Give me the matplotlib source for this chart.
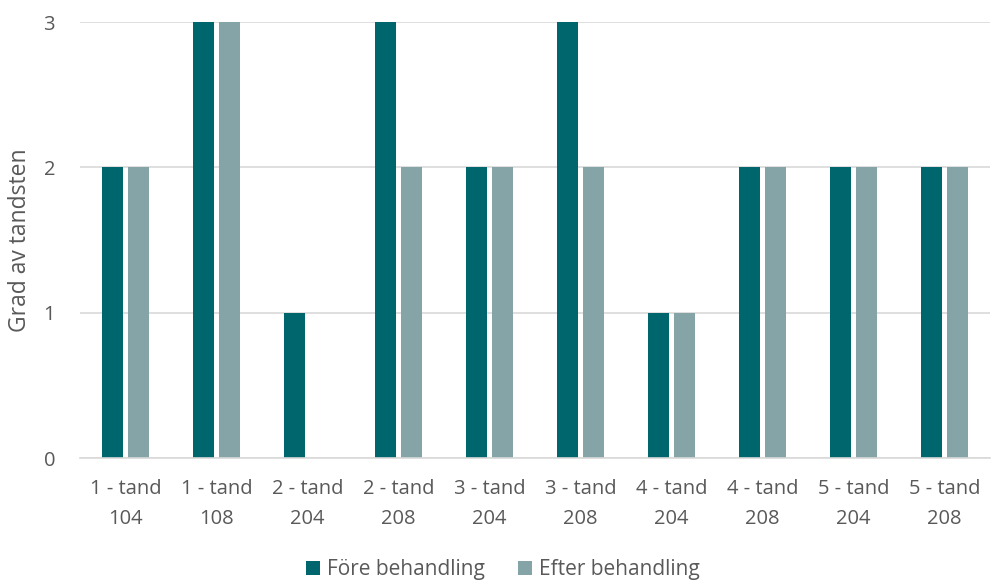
import matplotlib.pyplot as plt
import numpy as np

plt.rcParams["font.family"] = ["Open Sans", "DejaVu Sans"]

categories = ["1 - tand\n104", "1 - tand\n108", "2 - tand\n204", "2 - tand\n208", "3 - tand\n204",
              "3 - tand\n208", "4 - tand\n204", "4 - tand\n208", "5 - tand\n204", "5 - tand\n208"]
fore = [2, 3, 1, 3, 2, 3, 1, 2, 2, 2]
efter = [2, 3, 0, 2, 2, 2, 1, 2, 2, 2]
series_names = ["Före behandling", "Efter behandling"]
colors = ["#00666E", "#84A4A8"]
text_color = "#595959"

fig = plt.figure(figsize=(9.96, 5.84), dpi=100)
ax = fig.add_axes([80 / 996, 1 - 458 / 584, 910 / 996, 436 / 584])

x = np.arange(len(categories))
width = 0.23
gap = 0.055
ax.bar(x - (width + gap) / 2, fore, width, color=colors[0], label=series_names[0], zorder=2)
ax.bar(x + (width + gap) / 2, efter, width, color=colors[1], label=series_names[1], zorder=2)

ax.set_xlim(-0.5, len(categories) - 0.5)
ax.set_ylim(0, 3)
ax.set_yticks([0, 1, 2, 3])
ax.set_xticks(x)
ax.set_xticklabels(categories, fontsize=14.5, color=text_color, linespacing=1.7)
ax.tick_params(axis="y", labelsize=14.5, labelcolor=text_color, length=0, pad=18)
ax.tick_params(axis="x", length=0, pad=15)
ax.grid(axis="y", color="#D9D9D9", linewidth=1.2, zorder=0)
for side in ["top", "right", "left"]:
    ax.spines[side].set_visible(False)
ax.spines["bottom"].set_color("#D9D9D9")
ax.spines["bottom"].set_linewidth(1.2)
ax.set_ylabel("Grad av tandsten", fontsize=16.5, color=text_color)
ax.yaxis.set_label_coords(-0.053, 0.5)

fig.legend(loc="center", bbox_to_anchor=(0.505, 1 - 570 / 584), ncol=2, frameon=False,
           fontsize=15, labelcolor=text_color, handlelength=0.65, handleheight=0.65,
           handletextpad=0.35, columnspacing=1.6)

fig.savefig("out.png", dpi=100)
